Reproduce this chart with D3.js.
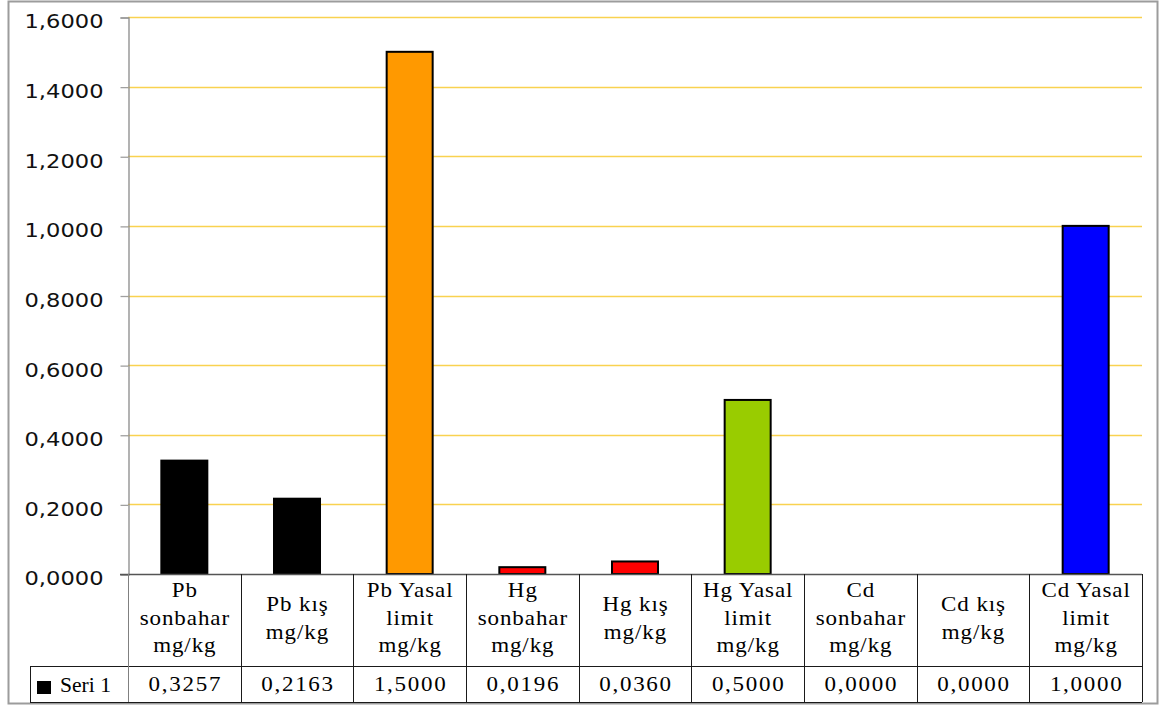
<!DOCTYPE html>
<html>
<head>
<meta charset="utf-8">
<script src="https://cdn.jsdelivr.net/npm/d3@7"></script>
<style>
  html, body { margin: 0; padding: 0; background: #fff; }
  svg { display: block; }
</style>
</head>
<body>
<svg id="chart" width="1160" height="706"></svg>
<script>
// Category labels (each line of a label as a separate string)
const categories = [
  ["Pb", "sonbahar", "mg/kg"],
  ["Pb kış", "mg/kg"],
  ["Pb Yasal", "limit", "mg/kg"],
  ["Hg", "sonbahar", "mg/kg"],
  ["Hg kış", "mg/kg"],
  ["Hg Yasal", "limit", "mg/kg"],
  ["Cd", "sonbahar", "mg/kg"],
  ["Cd kış", "mg/kg"],
  ["Cd Yasal", "limit", "mg/kg"]
];
const seriesName = "Seri 1";
const values = [0.3257, 0.2163, 1.5000, 0.0196, 0.0360, 0.5000, 0.0000, 0.0000, 1.0000];
const barColors = ["#000000", "#000000", "#FF9900", "#FF0000", "#FF0000", "#99CC00", "#000000", "#000000", "#0000FF"];
const yTicks = [0, 0.2, 0.4, 0.6, 0.8, 1.0, 1.2, 1.4, 1.6];

const svg = d3.select("#chart");
const plot = { left: 128, right: 1142, top: 17, bottom: 574 };
const table = { legendLeft: 30, catBottom: 666, bottom: 702 };

const fmt = v => d3.format(".4f")(v).replace(".", ",");

const keys = categories.map((c, i) => i);
const x = d3.scaleBand().domain(keys).range([plot.left, plot.right]).padding(0);
const y = d3.scaleLinear().domain([0, 1.6]).range([plot.bottom, plot.top]);

// outer frame
svg.append("rect")
  .attr("x", 8.5).attr("y", 1.5)
  .attr("width", 1149).attr("height", 702)
  .attr("fill", "#fff").attr("stroke", "#9c9c9c").attr("stroke-width", 2);

// horizontal gridlines
svg.append("g")
  .selectAll("line")
  .data(yTicks.filter(t => t > 0))
  .join("line")
  .attr("x1", plot.left).attr("x2", plot.right)
  .attr("y1", d => Math.round(y(d)) + 0.5).attr("y2", d => Math.round(y(d)) + 0.5)
  .attr("stroke", "#F9D250").attr("stroke-width", 1.3);

// y axis with tick labels
const yAxis = d3.axisLeft(y).tickValues(yTicks).tickSize(8).tickPadding(17).tickFormat(fmt);
const gy = svg.append("g").attr("transform", `translate(${plot.left + 0.5},0.5)`).call(yAxis);
gy.select(".domain").attr("stroke", "#8a8a8a").attr("stroke-width", 1.3);
gy.selectAll(".tick line").attr("stroke", "#a0a0a0").attr("stroke-width", 1.3);
gy.selectAll(".tick text")
  .attr("font-family", "'DejaVu Sans', Verdana, sans-serif")
  .attr("font-size", 20)
  .attr("fill", "#111")
  .attr("dy", "0.52em")
  .attr("textLength", 79)
  .attr("lengthAdjust", "spacingAndGlyphs");

// bars
const barW = 46;
svg.append("g")
  .selectAll("rect")
  .data(values)
  .join("rect")
  .attr("x", (d, i) => x(i) + (x.bandwidth() - barW) / 2)
  .attr("y", d => y(d))
  .attr("width", barW)
  .attr("height", d => y(0) - y(d))
  .attr("fill", (d, i) => barColors[i])
  .attr("stroke", d => d > 0 ? "#000" : "none")
  .attr("stroke-width", 2);

// data table
const tg = svg.append("g");
const lineColor = "#1a1a1a";
tg.append("line")
  .attr("x1", plot.left - 8).attr("x2", plot.right)
  .attr("y1", plot.bottom + 0.5).attr("y2", plot.bottom + 0.5)
  .attr("stroke", "#555").attr("stroke-width", 1.3);
tg.append("line")
  .attr("x1", table.legendLeft).attr("x2", plot.right)
  .attr("y1", table.catBottom + 0.5).attr("y2", table.catBottom + 0.5)
  .attr("stroke", lineColor);
tg.append("line")
  .attr("x1", table.legendLeft).attr("x2", plot.right)
  .attr("y1", table.bottom + 0.5).attr("y2", table.bottom + 0.5)
  .attr("stroke", lineColor);
// column separators
const bounds = keys.map(k => x(k)).concat([plot.right]);
tg.selectAll("line.col")
  .data(bounds)
  .join("line")
  .attr("class", "col")
  .attr("x1", d => Math.round(d) + 0.5).attr("x2", d => Math.round(d) + 0.5)
  .attr("y1", plot.bottom).attr("y2", table.bottom)
  .attr("stroke", (d, i) => i === 0 ? "#808080" : lineColor);
tg.append("line")
  .attr("x1", table.legendLeft + 0.5).attr("x2", table.legendLeft + 0.5)
  .attr("y1", table.catBottom).attr("y2", table.bottom)
  .attr("stroke", lineColor);

// table text is slightly widened horizontally
const serif = "'Liberation Serif', 'Times New Roman', serif";
const sx = 1.15;
const lh = 27.5;
const catBase = 625;

const cat = tg.selectAll("text.cat")
  .data(categories)
  .join("text")
  .attr("class", "cat")
  .attr("transform", (d, i) => `translate(${x(i) + x.bandwidth() / 2 + 0.5},0) scale(${sx},1)`)
  .attr("x", 0)
  .attr("text-anchor", "middle")
  .attr("font-family", serif)
  .attr("font-size", 20)
  .attr("letter-spacing", 0.8)
  .attr("fill", "#000");
cat.each(function(lines) {
  const n = lines.length;
  d3.select(this).selectAll("tspan")
    .data(lines)
    .join("tspan")
    .attr("x", 0)
    .attr("y", (l, j) => catBase + (j - (n - 1) / 2) * lh)
    .text(l => l);
});

// value row
tg.selectAll("text.val")
  .data(values)
  .join("text")
  .attr("class", "val")
  .attr("transform", (d, i) => `translate(${x(i) + x.bandwidth() / 2 + 1},0) scale(${sx},1)`)
  .attr("x", 0)
  .attr("y", 691)
  .attr("text-anchor", "middle")
  .attr("font-family", serif)
  .attr("font-size", 20)
  .attr("letter-spacing", 1.5)
  .attr("fill", "#000")
  .text(d => fmt(d));

// legend key in the table
tg.append("rect")
  .attr("x", 37).attr("y", 681)
  .attr("width", 14).attr("height", 13)
  .attr("fill", "#000");
tg.append("text")
  .attr("transform", `translate(60,0) scale(1.08,1)`)
  .attr("x", 0).attr("y", 692)
  .attr("font-family", serif)
  .attr("font-size", 20)
  .attr("fill", "#000")
  .text(seriesName);
</script>
</body>
</html>
